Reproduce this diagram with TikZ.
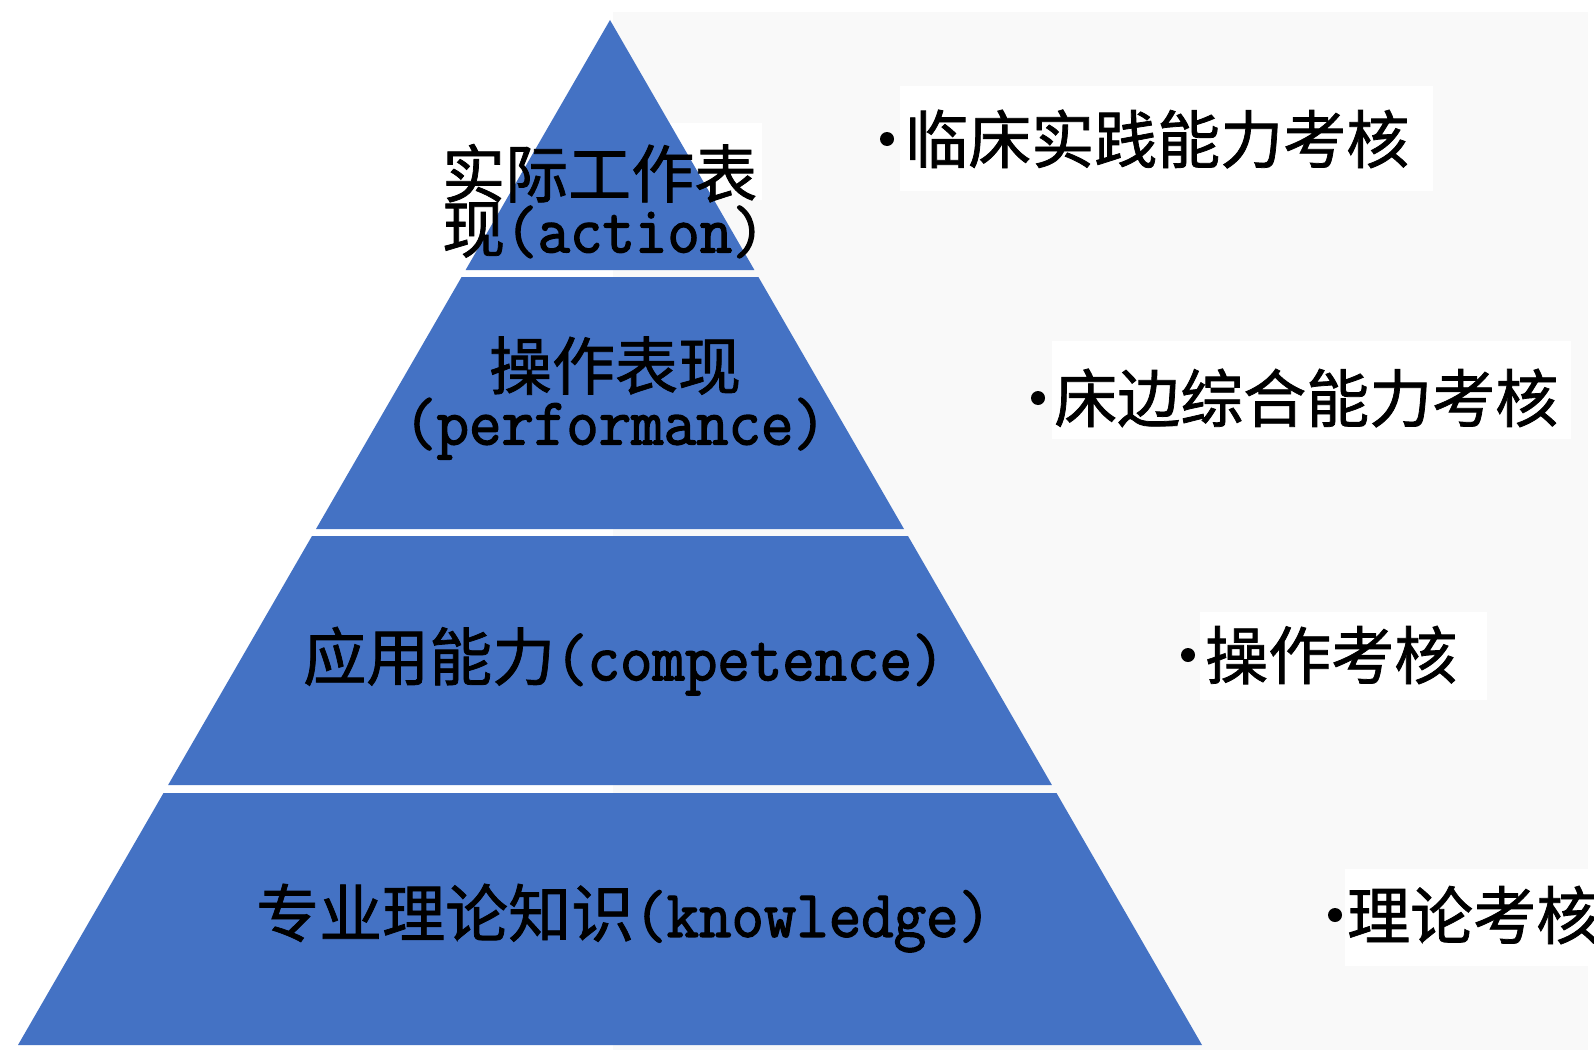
\documentclass[tikz,border=0pt]{standalone}
\usepackage{fontspec}
\newfontfamily\cjk[FakeBold=1.2]{Noto Sans CJK SC}
\newfontfamily\lmono[FakeStretch=0.94,FakeBold=2]{Latin Modern Mono}
\newcommand\en[1]{{\lmono\fontsize{67}{55}\selectfont #1}}
\definecolor{pyblue}{HTML}{4472C4}
\definecolor{pagegray}{HTML}{F9F9F9}
\begin{document}
\begin{tikzpicture}[x=1pt,y=-1pt,
  layerfill/.style={fill=pyblue},
  txt/.style={inner sep=0pt, font=\cjk\fontsize{63}{55}\selectfont, text=black},
  lbox/.style={fill=white, draw=none},
  dot/.style={circle, fill=black, inner sep=0pt, minimum size=14pt}]
% page
\fill[white] (0,0) rectangle (1594,1057);
\useasboundingbox (0,0) rectangle (1594,1057);
\fill[pagegray] (613,12) rectangle (1588,1050);
% white text boxes
\fill[lbox] (430,123) rectangle (762,200);
\fill[lbox] (900,86) rectangle (1433,191);
\fill[lbox] (1052,341) rectangle (1571,439);
\fill[lbox] (1200,612) rectangle (1487,700);
\fill[lbox] (1345,869) rectangle (1594,966);
% pyramid layers
\fill[layerfill] (610,20) -- (754.4,270) -- (465.6,270) -- cycle;
\fill[layerfill] (461.6,277) -- (758.4,277) -- (904,529) -- (316,529) -- cycle;
\fill[layerfill] (312,536) -- (908,536) -- (1051.9,785) -- (168.1,785) -- cycle;
\fill[layerfill] (163.5,793) -- (1056.5,793) -- (1202,1045) -- (18,1045) -- cycle;
% pyramid labels
\node[txt, anchor=west, align=left] (l1) at (442,201) {实际工作表\\现\en{(action)}};
\node[txt, align=center] (l2) at (615,398) {操作表现\\\en{(performance)}};
\node[txt, anchor=west] (l3) at (303,661) {应用能力\en{(competence)}};
\node[txt, anchor=west] (l4) at (256,918) {专业理论知识\en{(knowledge)}};
% right labels
\node[dot] (b1) at (887,139) {};
\node[txt, anchor=west] (r1) at (905,139) {临床实践能力考核};
\node[dot] (b2) at (1038,398) {};
\node[txt, anchor=west] (r2) at (1054,398) {床边综合能力考核};
\node[dot] (b3) at (1188,655) {};
\node[txt, anchor=west] (r3) at (1205,655) {操作考核};
\node[dot] (b4) at (1335,915) {};
\node[txt, anchor=west] (r4) at (1347,915) {理论考核};
\end{tikzpicture}
\end{document}
